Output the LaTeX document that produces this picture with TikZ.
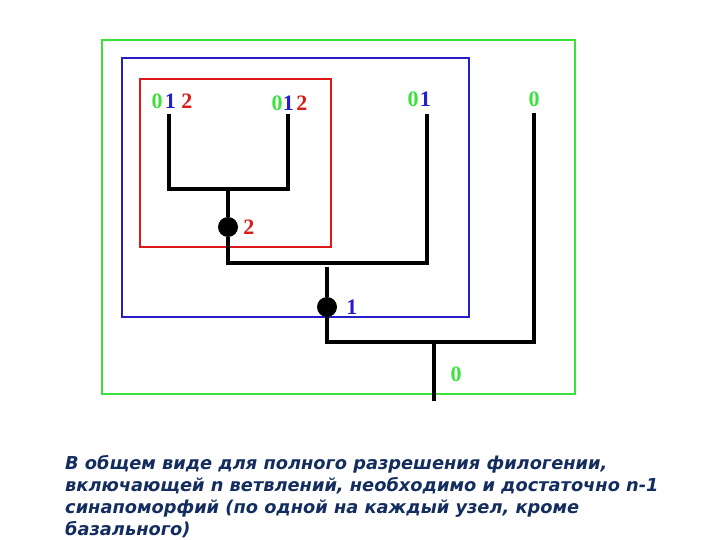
\documentclass[tikz,border=0pt]{standalone}
\usepackage{fontspec}
\setmainfont{Liberation Serif}
\newfontfamily\capfont{DejaVu Sans}
\usetikzlibrary{positioning}
\definecolor{clgreen}{RGB}{60,225,60}
\definecolor{clblue}{RGB}{40,30,200}
\definecolor{clred}{RGB}{220,25,25}
\definecolor{captxt}{RGB}{20,45,95}

\begin{document}
\begin{tikzpicture}[x=1pt,y=-1pt,
 branch/.style={line width=3.6pt,black},
 frame/.style={line width=1.8pt},
 knot/.style={circle,fill=black,inner sep=0pt,minimum size=20pt},
 lab/.style={font=\fontsize{22}{22}\selectfont\bfseries,inner sep=0pt},
 caption/.style={font=\capfont\fontsize{17.8}{22}\selectfont\bfseries\itshape,
 text=captxt,align=left,inner sep=0pt}]
\useasboundingbox (0,0) rectangle (720,540);
% clade frames
\draw[frame,clgreen] (102,40) rectangle (575,394);
\draw[frame,clblue] (122,58) rectangle (469,317);
\draw[frame,clred] (140,79) rectangle (331,247);
% leaves
\coordinate (tA) at (169,114);
\coordinate (tB) at (288,114);
\coordinate (tC) at (427,114);
\coordinate (tD) at (534,113);
\coordinate (jAB) at (228,189);
\node[knot] (n2) at (228,227) {};
\coordinate (jC) at (228,263);
\coordinate (s1) at (327,267);
\node[knot] (n1) at (327,307) {};
\coordinate (jD) at (327,342);
\coordinate (r0) at (434,342);
\coordinate (root) at (434,401);
% branches
\draw[branch] (tA) |- (jAB) -| (tB);
\draw[branch] (jAB) -- (n2);
\draw[branch] (n2) |- (jC) -| (tC);
\draw[branch] (s1) -- (n1);
\draw[branch] (n1) |- (jD) -| (tD);
\draw[branch] (r0) -- (root);
% synapomorphies at leaves
\node[lab,text=clgreen] (a0) at (157,101) {0};
\node[lab,text=clblue,right=2pt of a0] (a1) {1};
\node[lab,text=clred,right=5pt of a1] (a2) {2};
\node[lab,text=clgreen] (b0) at (277,103) {0};
\node[lab,text=clblue,right=0pt of b0] (b1) {1};
\node[lab,text=clred,right=2pt of b1] (b2) {2};
\node[lab,text=clgreen] (c0) at (413,99) {0};
\node[lab,text=clblue,right=1pt of c0] (c1) {1};
\node[lab,text=clgreen] (d0) at (534,99) {0};
% node labels
\node[lab,text=clred,right=5pt of n2] (l2) {2};
\node[lab,text=clblue,right=9pt of n1] (l1) {1};
\node[lab,text=clgreen] (l0) at (456,374) {0};
% caption
\node[caption,anchor=base west] (cap) at (65,535)
 {В общем виде для полного разрешения филогении,\\
 включающей n ветвлений, необходимо и достаточно n-1\\
 синапоморфий (по одной на каждый узел, кроме\\
 базального)};
\end{tikzpicture}
\end{document}
